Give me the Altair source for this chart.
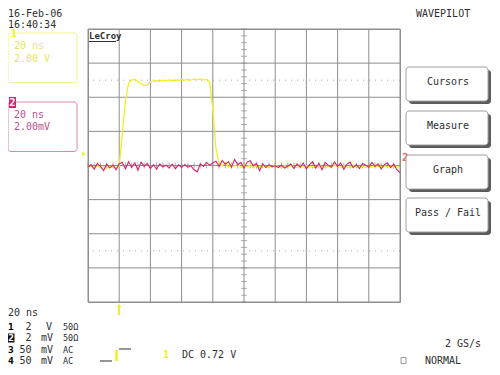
import altair as alt
import pandas as pd

T_START_NS = -20      # left edge of the graticule
SAMPLE_NS = 2         # spacing of the values below
V_PER_DIV_CH1 = 2.0   # "2.00 V"
MV_PER_DIV_CH2 = 2.0  # "2.00mV"

ch1_volts = [
    -0.10, -0.05, -0.15, -0.02, -0.12, -0.08, -0.18, -0.04, -0.10, -0.14, -0.06,
    1.90, 3.80, 4.80, 5.02, 5.05, 4.92, 4.78, 4.68, 4.72, 4.90,
    4.95, 4.98, 4.93, 5.00, 4.96, 5.02, 4.97, 5.01, 4.99, 5.04,
    5.00, 5.05, 5.01, 5.06, 5.03, 5.07, 5.02, 5.05, 4.90, 3.30,
    1.00, 0.12, -0.02, 0.15, -0.10, 0.08, -0.05, 0.10, -0.12, 0.02,
    -0.08, 0.05, -0.15, -0.02, -0.10, 0.06, -0.12, -0.04, -0.08, 0.02,
    -0.06, -0.14, -0.02, -0.10, 0.04, -0.08, -0.12, -0.03, -0.09, 0.00,
    -0.10, -0.05, -0.12, 0.02, -0.07, -0.14, -0.04, -0.09, 0.03, -0.06,
    -0.11, -0.02, -0.08, -0.13, 0.01, -0.07, -0.10, -0.04, -0.12, -0.05,
    -0.09, 0.00, -0.06, -0.12, -0.03, -0.08, -0.02, -0.10, -0.05, -0.15,
]
ch2_millivolts = [
    -0.10, 0.05, -0.22, 0.12, -0.05, -0.30, 0.08, -0.15, 0.02, -0.25, 0.10,
    0.18, -0.20, 0.22, -0.12, 0.15, -0.28, 0.20, -0.05, 0.12, -0.18,
    0.05, -0.22, 0.10, -0.08, 0.02, -0.15, 0.08, -0.20, 0.04, -0.12,
    0.06, -0.10, -0.02, -0.25, -0.38, 0.10, -0.05, 0.18, 0.02, 0.15,
    0.25, -0.05, 0.30, 0.08, 0.22, -0.10, 0.35, 0.05, 0.18, -0.15,
    0.20, 0.28, -0.02, 0.12, -0.30, 0.10, -0.12, 0.05, -0.08, -0.02,
    -0.12, 0.02, -0.15, -0.05, 0.08, -0.18, 0.10, -0.10, 0.15, -0.20,
    0.05, 0.22, -0.15, 0.12, -0.25, 0.18, 0.02, -0.10, 0.20, -0.05,
    0.15, -0.22, 0.08, 0.20, -0.12, 0.05, -0.18, 0.12, 0.02, -0.10,
    0.18, -0.05, 0.10, -0.20, 0.06, 0.15, -0.12, 0.08, -0.25, -0.42,
]

n = len(ch1_volts)
times = [T_START_NS + SAMPLE_NS * i for i in range(n)]
ch1 = pd.DataFrame({"t": times, "div": [v / V_PER_DIV_CH1 for v in ch1_volts]})
ch2 = pd.DataFrame({"t": times, "div": [v / MV_PER_DIV_CH2 for v in ch2_millivolts]})

# graticule structure (10 x 8 divisions, 5 minor marks per division on the centre cross)
x_div_lines = pd.DataFrame({"t": list(range(-20, 181, 20))})
y_div_lines = pd.DataFrame({"div": list(range(-4, 5))})
minor_x = pd.DataFrame({"t": [-20 + 4 * i for i in range(51)], "div": 0})
minor_y = pd.DataFrame({"t": 80, "div": [-4 + 0.2 * i for i in range(41)]})

# ---------------- styling ----------------
GRID = "#8e8e8e"
DARK = "#2e2e2e"
YEL = "#f0f020"
YEL_TXT = "#e4e460"
YEL_BOX = "#f2f290"
MAG = "#d6246e"
MAG_TXT = "#c0508e"
MAG_BOX = "#d888b0"
MONO = "DejaVu Sans Mono"
OX, OY = 88, 29  # page position of the graticule's top-left corner

xs = alt.Scale(domain=[-20, 180], nice=False, zero=False)
ys = alt.Scale(domain=[-4, 4], nice=False, zero=False)
ONE = pd.DataFrame({"k": [0]})
X = alt.X("t:Q", scale=xs, axis=None)
Y = alt.Y("div:Q", scale=ys, axis=None)


def txt(s, x, y, color=DARK, size=10, weight="normal", align="left"):
    return alt.Chart(ONE).mark_text(
        text=s, align=align, baseline="middle", fontSize=size, font=MONO,
        fontWeight=weight, color=color,
    ).encode(x=alt.value(x - OX), y=alt.value(y - OY))


def box(x1, y1, x2, y2, stroke=None, fill=None, r=0, sw=1):
    kw = {"cornerRadius": r, "strokeWidth": sw}
    if stroke:
        kw["stroke"] = stroke
    if fill:
        kw["fill"] = fill
    else:
        kw["fill"] = "white"
        kw["fillOpacity"] = 0
    return alt.Chart(ONE).mark_rect(**kw).encode(
        x=alt.value(x1 - OX), x2=alt.value(x2 - OX),
        y=alt.value(y1 - OY), y2=alt.value(y2 - OY),
    )


def seg(x1, y1, x2, y2, color=DARK, sw=1):
    return alt.Chart(ONE).mark_rule(color=color, strokeWidth=sw).encode(
        x=alt.value(x1 - OX), x2=alt.value(x2 - OX),
        y=alt.value(y1 - OY), y2=alt.value(y2 - OY),
    )


vlines = alt.Chart(x_div_lines).mark_rule(color=GRID, strokeWidth=1).encode(x=X)
hlines = alt.Chart(y_div_lines).mark_rule(color=GRID, strokeWidth=1).encode(y=Y)
ticks_h = alt.Chart(minor_x).mark_tick(orient="vertical", size=6, thickness=1, color=GRID).encode(x=X, y=Y)
ticks_v = alt.Chart(minor_y).mark_tick(orient="horizontal", size=6, thickness=1, color=GRID).encode(x=X, y=Y)
dots = alt.Chart(pd.DataFrame({"div": [2.5, -2.5]})).mark_rule(
    color="#a8a8a8", strokeDash=[1, 5], strokeWidth=1).encode(y=Y)

trace1 = alt.Chart(ch1).mark_line(color=YEL, strokeWidth=1.3).encode(x=X, y=Y)
trace2 = alt.Chart(ch2).mark_line(color=MAG, strokeWidth=1.1).encode(x=X, y=Y)

layers = [vlines, hlines, ticks_h, ticks_v, dots, trace1, trace2]

# logo
layers += [txt("LeCroy", 89, 36, DARK, 9, "bold"), seg(89, 41.5, 116, 41.5, DARK, 1)]

# date / time
layers += [txt("16-Feb-06", 8, 13.5), txt("16:40:34", 8, 24.5)]

# channel 1 label box
layers += [box(8, 33, 77, 82.5, stroke=YEL_BOX, r=3),
           txt("1", 11, 34, YEL, 10, "bold"),
           txt("20 ns", 14, 46, YEL_TXT), txt("2.00 V", 14, 58.5, YEL_TXT)]
# channel 2 label box
layers += [box(8, 102, 77, 151.5, stroke=MAG_BOX, r=3),
           box(9, 97, 16, 108, fill=MAG),
           txt("2", 9.5, 102.5, "white", 10, "bold"),
           txt("20 ns", 14, 114.5, MAG_TXT), txt("2.00mV", 14, 127, MAG_TXT)]

# ground / trigger markers
layers += [alt.Chart(ONE).mark_point(shape="triangle-right", filled=True, color=YEL, size=22, opacity=1)
           .encode(x=alt.value(84 - OX), y=alt.value(154 - OY)),
           txt("2", 402, 158, "#e86a70", 11, "bold"),
           seg(119, 306, 119, 315, YEL, 2),
           alt.Chart(ONE).mark_point(shape="triangle-up", filled=True, color=YEL, size=20, opacity=1)
           .encode(x=alt.value(119 - OX), y=alt.value(305.5 - OY))]

# right side
layers += [txt("WAVEPILOT", 416, 13.5)]
for label, top in [("Cursors", 67), ("Measure", 111), ("Graph", 155), ("Pass / Fail", 198)]:
    layers += [box(409, top + 3, 491, top + 37, fill="#5c5c5c", r=3),
               box(406, top, 488, top + 34, stroke="#a0a0a0", fill="white", r=3),
               txt(label, 448, top + 15, DARK, 10, align="center")]

# bottom-left channel table
layers += [txt("20 ns", 8, 312.5)]
rows = [("1", "2", "V", "50Ω", 326.5), ("2", "2", "mV", "50Ω", 338),
        ("3", "50", "mV", "AC", 349.5), ("4", "50", "mV", "AC", 361)]
for num, val, unit, cpl, yy in rows:
    if num == "2":
        layers += [box(8, yy - 4.5, 14.5, yy + 4.5, fill="#111111"),
                   txt(num, 8.3, yy, "white", 9.5, "bold")]
    else:
        layers += [txt(num, 8, yy, "#000000", 9.5, "bold")]
    layers += [txt(val, 31.5, yy, DARK, 10, align="right"),
               txt(unit, 41 if unit == "mV" else 46, yy),
               txt(cpl, 63, yy, DARK, 8.5)]

# trigger description
layers += [seg(100, 361, 112, 361, DARK, 1), seg(116.5, 350, 116.5, 361, YEL, 2.5),
           seg(119, 349, 131, 349, DARK, 1),
           txt("1", 163, 355, YEL, 10, "bold"), txt("DC 0.72 V", 182, 355)]

# bottom-right
layers += [txt("2 GS/s", 481, 343.5, DARK, 10, align="right"),
           box(401, 357.5, 406, 363.5, stroke="#9a9a9a"),
           txt("NORMAL", 425, 361)]

chart = alt.layer(*layers).properties(
    width=312, height=273,
    padding={"left": 80, "top": 21, "right": 92, "bottom": 65},
    autosize=alt.AutoSizeParams(type="none"),
    background="white",
).configure_view(stroke=GRID, strokeWidth=1)

chart.save("out.html", embed_options={"renderer": "svg", "actions": False})
